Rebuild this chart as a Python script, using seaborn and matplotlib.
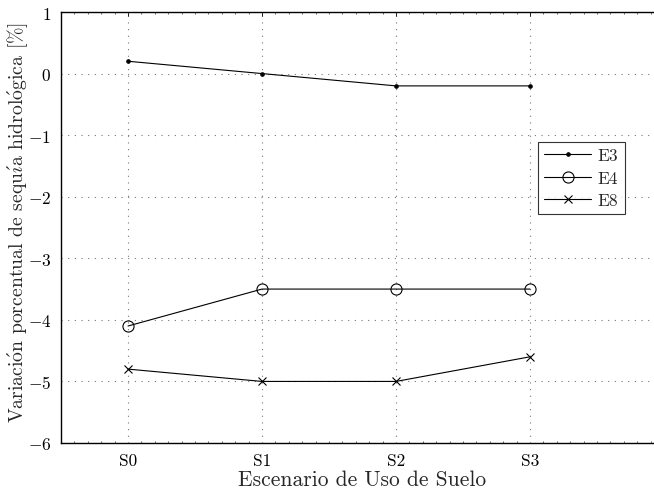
import matplotlib
matplotlib.use("Agg")
import matplotlib.pyplot as plt
import seaborn as sns
import pandas as pd
import numpy as np
from matplotlib.ticker import MultipleLocator

# Scenario positions and labels
scenarios = ["S0", "S1", "S2", "S3"]
positions = [1, 2, 3, 4]

# Percentage change of hydrological drought per station
e3 = [0.2, 0.0, -0.2, -0.2]
e4 = [-4.1, -3.5, -3.5, -3.5]
e8 = [-4.8, -5.0, -5.0, -4.6]

sns.set_theme(style="white")
plt.rcParams["font.family"] = ["cmr10", "DejaVu Serif"]
plt.rcParams["mathtext.fontset"] = "cm"
plt.rcParams["axes.formatter.use_mathtext"] = True

df = pd.DataFrame({
    "pos": positions * 3,
    "val": e3 + e4 + e8,
    "serie": ["E3"] * 4 + ["E4"] * 4 + ["E8"] * 4,
})

fig = plt.figure(figsize=(6.54, 4.89), dpi=100)
ax = fig.add_axes([61 / 654, 45 / 489, 603 / 654, 431 / 489])

styles = {
    "E3": dict(marker="o", markersize=2.5, markerfacecolor="black"),
    "E4": dict(marker="o", markersize=8, markerfacecolor="none"),
    "E8": dict(marker="x", markersize=5.5),
}
for name in ["E3", "E4", "E8"]:
    sub = df[df["serie"] == name]
    sns.lineplot(data=sub, x="pos", y="val", ax=ax, color="black", lw=0.8,
                 markeredgecolor="black", markeredgewidth=0.8, label=name,
                 **styles[name])

ax.set_xlim(0.5, 5)
ax.set_ylim(-6, 1)
ax.set_xticks(positions)
ax.set_xticklabels(scenarios)
ax.set_yticks(np.arange(-6, 2, 1))
ax.set_yticklabels([f"${v}$" for v in range(-6, 2)])
ax.xaxis.set_minor_locator(MultipleLocator(0.1))
ax.tick_params(axis="both", which="major", direction="in", length=3,
               width=0.6, labelsize=12.5, colors="black", pad=7,
               top=True, right=True)
ax.tick_params(axis="x", which="minor", direction="in", length=1.5,
               width=0.5, top=True, bottom=True)
for s in ax.spines.values():
    s.set_color("black")
    s.set_linewidth(1.0)

ax.grid(True, which="major", linestyle=(0, (1, 5)), color="#777777",
        linewidth=0.8)

ax.set_xlabel("Escenario de Uso de Suelo", fontsize=15.5, labelpad=1)
ax.set_ylabel(r"Variaci$\mathrm{\acute{o}}$n porcentual de sequ$\mathrm{\acute{\imath}}$a "
              r"hidrol$\mathrm{\acute{o}}$gica [%]", fontsize=14.2)
ax.yaxis.set_label_coords(-0.052, 0.515)

leg = ax.legend(loc="upper left", bbox_to_anchor=(477 / 603, 301 / 431),
                frameon=True, fancybox=False, edgecolor="black",
                fontsize=12.5, handlelength=2.7, borderpad=0.35,
                labelspacing=0.4, handletextpad=0.4, borderaxespad=0)
leg.get_frame().set_linewidth(0.8)

fig.savefig("out.png", dpi=100)
